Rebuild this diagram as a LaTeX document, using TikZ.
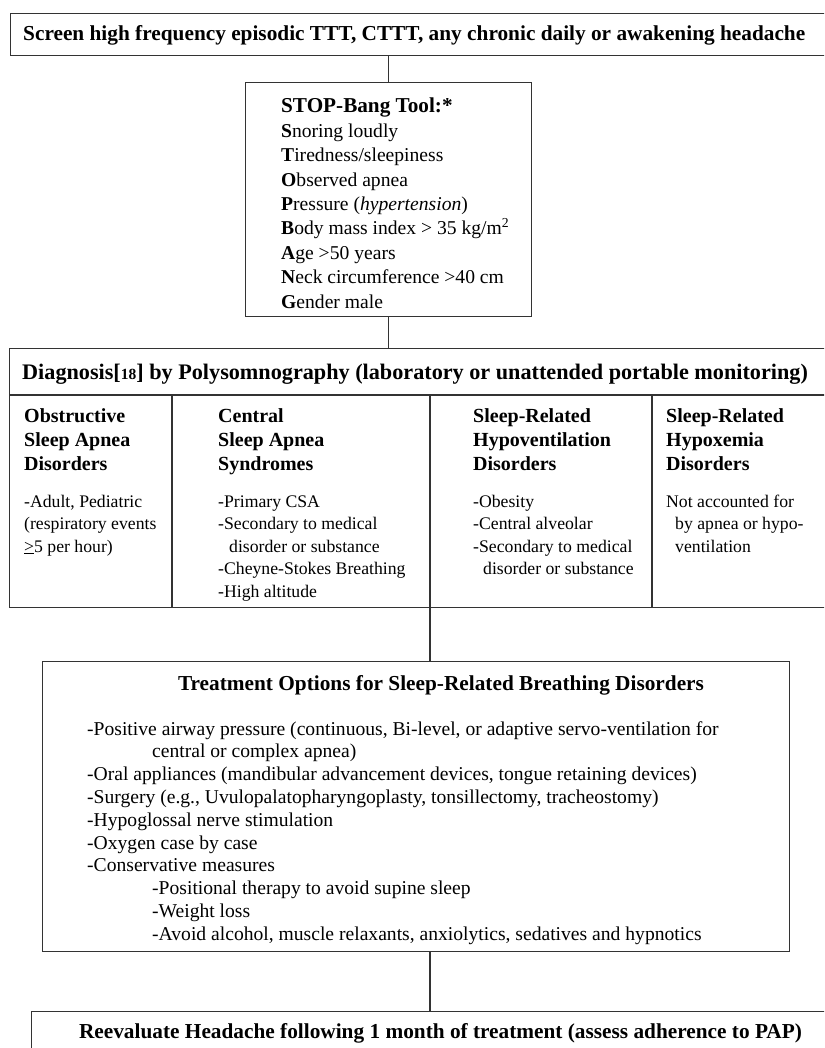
\documentclass[tikz,border=0pt]{standalone}
\usepackage{fontspec}
\setmainfont{Liberation Serif}
\begin{document}
\begin{tikzpicture}[x=1pt,y=-1pt,
  box/.style={draw=black!80, line width=1.2pt, inner sep=0, anchor=north west},
  conn/.style={draw=black!80, line width=1.2pt},
  L/.style={anchor=base west, inner sep=0},
  C/.style={anchor=base, inner sep=0},
  hb/.style={font=\fontsize{21.3}{24}\selectfont\bfseries},
  db/.style={font=\fontsize{22.2}{24}\selectfont\bfseries},
  sb/.style={font=\fontsize{21.2}{24}\selectfont\bfseries},
  rg/.style={font=\fontsize{19.6}{24}\selectfont},
  ch/.style={font=\fontsize{20}{24}\selectfont\bfseries},
  sm/.style={font=\fontsize{17.7}{22}\selectfont}]
\useasboundingbox (0,0) rectangle (824,1048);
\clip (0,0) rectangle (824,1048);
% boxes
\node[box, minimum width=830pt, minimum height=42pt] (top) at (10,13) {};
\node[box, minimum width=286pt, minimum height=234pt] (stop) at (245,82) {};
\node[box, minimum width=831pt, minimum height=259pt] (diag) at (9,348) {};
\node[box, minimum width=747pt, minimum height=290pt] (treat) at (42,661) {};
\node[box, minimum width=820pt, minimum height=60pt] (reev) at (31,1011) {};
% connectors
\draw[conn] (top.south -| stop.north) -- (stop.north);
\draw[conn] (stop.south) -- (stop.south |- diag.north);
\coordinate (dl) at (9,395);
\draw[conn] (dl) -- (dl -| diag.east);
\coordinate (c1) at (172,395);
\coordinate (c2) at (430,395);
\coordinate (c3) at (652,395);
\draw[conn] (c1) -- (c1 |- diag.south);
\draw[conn] (c2) -- (c2 |- treat.north);
\draw[conn] (c3) -- (c3 |- diag.south);
\draw[conn] (c2 |- treat.south) -- (c2 |- reev.north);
% top text
\node[L, hb] (t0) at (23,41) {Screen high frequency episodic TTT, CTTT, any chronic daily or awakening headache};
% STOP-Bang
\node[L, sb] (s0) at (281,113) {STOP-Bang Tool:*};
\node[L, rg] (s1) at (281,137.4) {\textbf{S}noring loudly};
\node[L, rg] (s2) at (281,161.8) {\textbf{T}iredness/sleepiness};
\node[L, rg] (s3) at (281,186.2) {\textbf{O}bserved apnea};
\node[L, rg] (s4) at (281,210.6) {\textbf{P}ressure (\textit{hypertension})};
\node[L, rg] (s5) at (281,235) {\textbf{B}ody mass index > 35 kg/m\textsuperscript{2}};
\node[L, rg] (s6) at (281,259.4) {\textbf{A}ge >50 years};
\node[L, rg] (s7) at (281,283.8) {\textbf{N}eck circumference >40 cm};
\node[L, rg] (s8) at (281,308.2) {\textbf{G}ender male};
% Diagnosis
\node[L, db] (d0) at (22,379) {Diagnosis[{\fontsize{15.5}{18}\selectfont 18}] by Polysomnography (laboratory or unattended portable monitoring)};
% column 1
\node[L, ch] (a1) at (24,422) {Obstructive};
\node[L, ch] (a2) at (24,446) {Sleep Apnea};
\node[L, ch] (a3) at (24,470) {Disorders};
\node[L, sm] (a4) at (24,507) {-Adult, Pediatric};
\node[L, sm] (a5) at (24,529.5) {(respiratory events};
\node[L, sm] (a6) at (24,552) {\underline{>}5 per hour)};
% column 2
\node[L, ch] (b1) at (218,422) {Central};
\node[L, ch] (b2) at (218,446) {Sleep Apnea};
\node[L, ch] (b3) at (218,470) {Syndromes};
\node[L, sm] (b4) at (218,507) {-Primary CSA};
\node[L, sm] (b5) at (218,529.5) {-Secondary to medical};
\node[L, sm] (b6) at (229,552) {disorder or substance};
\node[L, sm] (b7) at (218,574.5) {-Cheyne-Stokes Breathing};
\node[L, sm] (b8) at (218,597) {-High altitude};
% column 3
\node[L, ch] (e1) at (473,422) {Sleep-Related};
\node[L, ch] (e2) at (473,446) {Hypoventilation};
\node[L, ch] (e3) at (473,470) {Disorders};
\node[L, sm] (e4) at (473,507) {-Obesity};
\node[L, sm] (e5) at (473,529.5) {-Central alveolar};
\node[L, sm] (e6) at (473,552) {-Secondary to medical};
\node[L, sm] (e7) at (483,574.5) {disorder or substance};
% column 4
\node[L, ch] (f1) at (666,422) {Sleep-Related};
\node[L, ch] (f2) at (666,446) {Hypoxemia};
\node[L, ch] (f3) at (666,470) {Disorders};
\node[L, sm] (f4) at (666,507) {Not accounted for};
\node[L, sm] (f5) at (675,529.5) {by apnea or hypo-};
\node[L, sm] (f6) at (675,552) {ventilation};
% Treatment
\node[C, hb] (r0) at (441,690) {Treatment Options for Sleep-Related Breathing Disorders};
\node[L, rg] (r1) at (87,735) {-Positive airway pressure (continuous, Bi-level, or adaptive servo-ventilation for};
\node[L, rg] (r2) at (152,757.8) {central or complex apnea)};
\node[L, rg] (r3) at (87,780.6) {-Oral appliances (mandibular advancement devices, tongue retaining devices)};
\node[L, rg] (r4) at (87,803.4) {-Surgery (e.g., Uvulopalatopharyngoplasty, tonsillectomy, tracheostomy)};
\node[L, rg] (r5) at (87,826.2) {-Hypoglossal nerve stimulation};
\node[L, rg] (r6) at (87,849) {-Oxygen case by case};
\node[L, rg] (r7) at (87,871.8) {-Conservative measures};
\node[L, rg] (r8) at (152,894.6) {-Positional therapy to avoid supine sleep};
\node[L, rg] (r9) at (152,917.4) {-Weight loss};
\node[L, rg] (r10) at (152,940.2) {-Avoid alcohol, muscle relaxants, anxiolytics, sedatives and hypnotics};
% Reevaluate
\node[C, hb] (v0) at (440.5,1038) {Reevaluate Headache following 1 month of treatment (assess adherence to PAP)};
\end{tikzpicture}
\end{document}
